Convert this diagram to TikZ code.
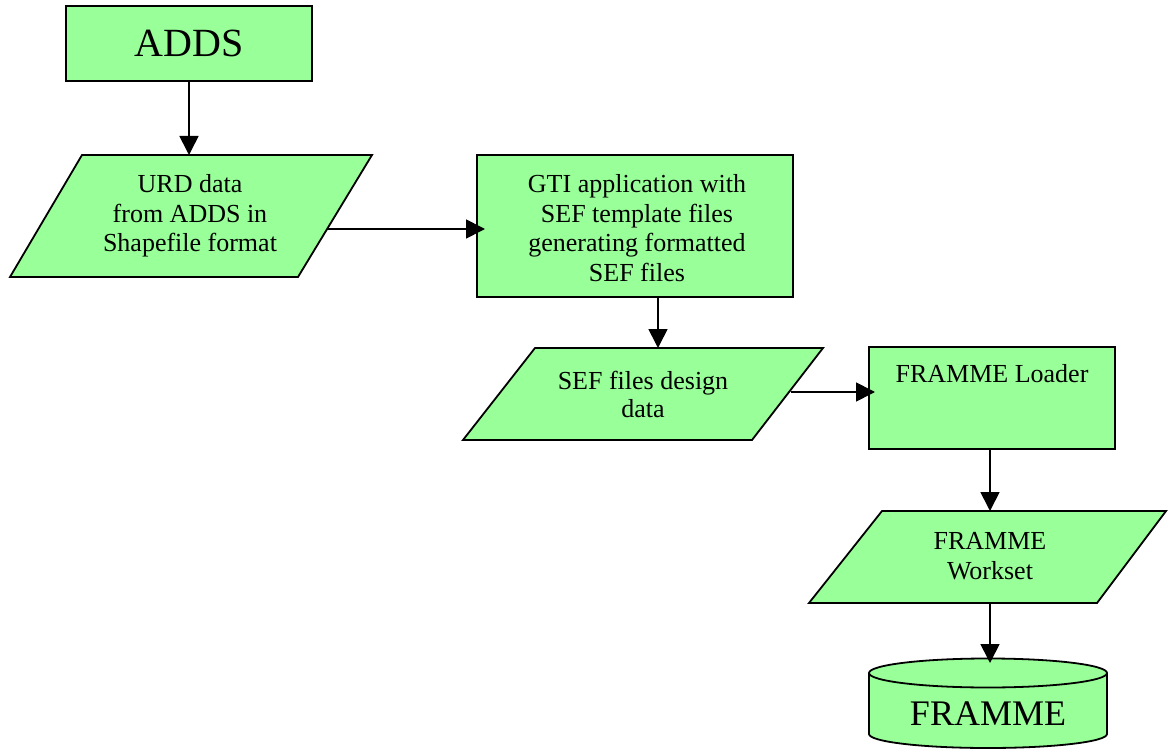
\documentclass[tikz,border=0pt]{standalone}
\usepackage{fontspec}
\setmainfont{Liberation Serif}
\usetikzlibrary{arrows.meta}
\definecolor{boxgreen}{RGB}{153,255,153}
\begin{document}
\begin{tikzpicture}[x=1pt,y=-1pt,
  shp/.style={draw=black, fill=boxgreen, line width=1.8pt},
  boxnode/.style={shp, inner sep=0pt, outer sep=0pt, anchor=north west},
  arr/.style={line width=1.7pt, -{Triangle[length=19pt,width=19pt]}},
  txt/.style={font=\fontsize{26}{29.5}\selectfont, align=center, inner sep=0pt},
  bigtxt/.style={inner sep=0pt}]
\useasboundingbox (0,0) rectangle (1168,749);
% ADDS
\node[boxnode, minimum width=246pt, minimum height=75pt, font=\fontsize{40}{44}\selectfont] (adds) at (66,6) {ADDS};
% URD parallelogram
\draw[shp] (82,155) -- (372,155) -- (298,277) -- (10,277) -- cycle;
\node[txt] (urd) at (190,216) {URD data\\from ADDS in\\Shapefile format};
\coordinate (p1top) at (189,155);
\coordinate (p1e) at (327,229);
% GTI
\node[boxnode, minimum width=316pt, minimum height=142pt] (gti) at (477,155) {};
\node[txt] (gtitxt) at (637,228) {GTI application with\\SEF template files\\generating formatted\\SEF files};
% SEF parallelogram
\draw[shp] (535,348) -- (823,348) -- (752,440) -- (463,440) -- cycle;
\node[txt, font=\fontsize{26}{28}\selectfont] (sef) at (643,394) {SEF files design\\data};
\coordinate (p2top) at (658,348);
\coordinate (p2e) at (791,392);
% Loader
\node[boxnode, minimum width=246pt, minimum height=102pt] (loader) at (869,347) {};
\node[txt, anchor=base] (loadtxt) at (992,382) {FRAMME Loader};
% Workset parallelogram
\draw[shp] (882,511) -- (1166,511) -- (1097,603) -- (809,603) -- cycle;
\node[txt] (ws) at (990,556) {FRAMME\\Workset};
\coordinate (p3top) at (990,511);
\coordinate (p3bot) at (990,603);
% Cylinder
\draw[shp] (869,673) -- (869,734) arc[start angle=180, end angle=360, x radius=119pt, y radius=14pt]
  -- (1107,673) arc[start angle=0, end angle=180, x radius=119pt, y radius=14.5pt] -- cycle;
\draw[line width=1.8pt] (869,673) arc[start angle=180, end angle=360, x radius=119pt, y radius=14.5pt];
\node[bigtxt, font=\fontsize{36}{40}\selectfont, anchor=base] (db) at (988,725) {FRAMME};
\coordinate (dbtop) at (990,659);
% connectors
\draw[arr] (adds.south -| p1top) -- (p1top);
\draw[arr, shorten >=-8pt] (p1e) -- (p1e -| gti.west);
\draw[arr] (gti.south -| p2top) -- (p2top);
\draw[arr, shorten >=-6pt] (p2e) -- (p2e -| loader.west);
\draw[arr] (loader.south -| p3top) -- (p3top);
\draw[arr, shorten >=-4pt] (p3bot) -- (dbtop);
\end{tikzpicture}
\end{document}
